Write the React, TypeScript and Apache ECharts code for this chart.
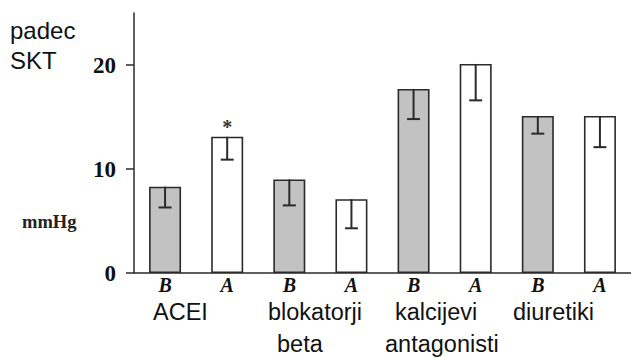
import React, { useEffect, useRef } from "react";
import * as echarts from "echarts";

const categories = ["B", "A", "B", "A", "B", "A", "B", "A"];
const means = [8.3, 13.1, 9.0, 7.1, 17.7, 20.1, 15.1, 15.1];
const errLow = [6.3, 10.9, 6.5, 4.3, 14.8, 16.6, 13.4, 12.1];
const significant = [false, true, false, false, false, false, false, false];
const isBefore = [true, false, true, false, true, false, true, false];
const yTicks = [0, 10, 20];
const groupLabels = [
  { text: "ACEI", x: 153, y: 300 },
  { text: "blokatorji", x: 268, y: 300 },
  { text: "beta", x: 277, y: 332 },
  { text: "kalcijevi", x: 395, y: 300 },
  { text: "antagonisti", x: 385, y: 332 },
  { text: "diuretiki", x: 513, y: 300 },
];

const INK = "#2a2a2a";

export default function App() {
  const ref = useRef<HTMLDivElement>(null);
  useEffect(() => {
    if (!ref.current) return;
    const chart = echarts.init(ref.current, null, { renderer: "svg" });
    const option: any = {
      animation: false,
      backgroundColor: "#ffffff",
      grid: { left: 134, top: 13, bottom: 85, right: -4.6, containLabel: false },
      xAxis: {
        type: "category",
        data: categories,
        axisLine: { show: true, lineStyle: { color: INK, width: 1.5 } },
        axisTick: { show: false },
        axisLabel: {
          margin: 3,
          lineHeight: 18,
          fontFamily: "Liberation Serif",
          fontStyle: "italic",
          fontWeight: "bold",
          fontSize: 20,
          color: "#111",
        },
      },
      yAxis: {
        type: "value",
        min: 0,
        max: 25,
        interval: 10,
        splitLine: { show: false },
        axisLine: { show: true, lineStyle: { color: INK, width: 1.5 } },
        axisTick: {
          show: true,
          length: 8,
          customValues: yTicks,
          lineStyle: { color: INK, width: 1.5 },
        },
        axisLabel: {
          customValues: yTicks,
          margin: 18,
          fontFamily: "Liberation Serif",
          fontWeight: "bold",
          fontSize: 23,
          color: "#111",
        },
      },
      series: [
        {
          type: "bar",
          barWidth: 32,
          z: 2,
          data: means.map((v, i) => ({
            value: v,
            itemStyle: {
              color: isBefore[i] ? "#c2c2c2" : "#ffffff",
              borderColor: INK,
              borderWidth: 1.6,
            },
          })),
        },
        {
          type: "custom",
          z: 5,
          data: means.map((v, i) => [i, v, errLow[i], significant[i] ? 1 : 0]),
          renderItem: (params: any, api: any) => {
            const i = api.value(0);
            const top = api.coord([i, api.value(1)]);
            const low = api.coord([i, api.value(2)]);
            const children: any[] = [
              {
                type: "line",
                shape: { x1: top[0], y1: top[1], x2: low[0], y2: low[1] },
                style: { stroke: INK, lineWidth: 2 },
              },
              {
                type: "line",
                shape: { x1: low[0] - 6.5, y1: low[1], x2: low[0] + 6.5, y2: low[1] },
                style: { stroke: INK, lineWidth: 2 },
              },
            ];
            if (api.value(3)) {
              children.push({
                type: "text",
                style: {
                  text: "*",
                  x: top[0],
                  y: top[1] - 10,
                  align: "center",
                  verticalAlign: "middle",
                  font: "bold 20px 'Liberation Serif'",
                  fill: "#333",
                },
              });
            }
            return { type: "group", children };
          },
        },
      ],
      graphic: [
        {
          type: "text",
          left: 10,
          top: 15,
          style: {
            text: "padec\nSKT",
            font: "24px 'Liberation Sans'",
            lineHeight: 30,
            fill: "#111",
          },
        },
        {
          type: "text",
          left: 22,
          top: 212,
          style: {
            text: "mmHg",
            font: "bold 18.5px 'Liberation Serif'",
            fill: "#222",
          },
        },
        ...groupLabels.map((g) => ({
          type: "text",
          left: g.x,
          top: g.y,
          style: { text: g.text, font: "23.5px 'Liberation Sans'", lineHeight: 23, fill: "#111" },
        })),
      ],
    };
    chart.setOption(option);
    return () => chart.dispose();
  }, []);
  return (
    <div
      ref={ref}
      style={{ position: "fixed", left: 0, top: 0, width: 631, height: 358, background: "#fff" }}
    />
  );
}
